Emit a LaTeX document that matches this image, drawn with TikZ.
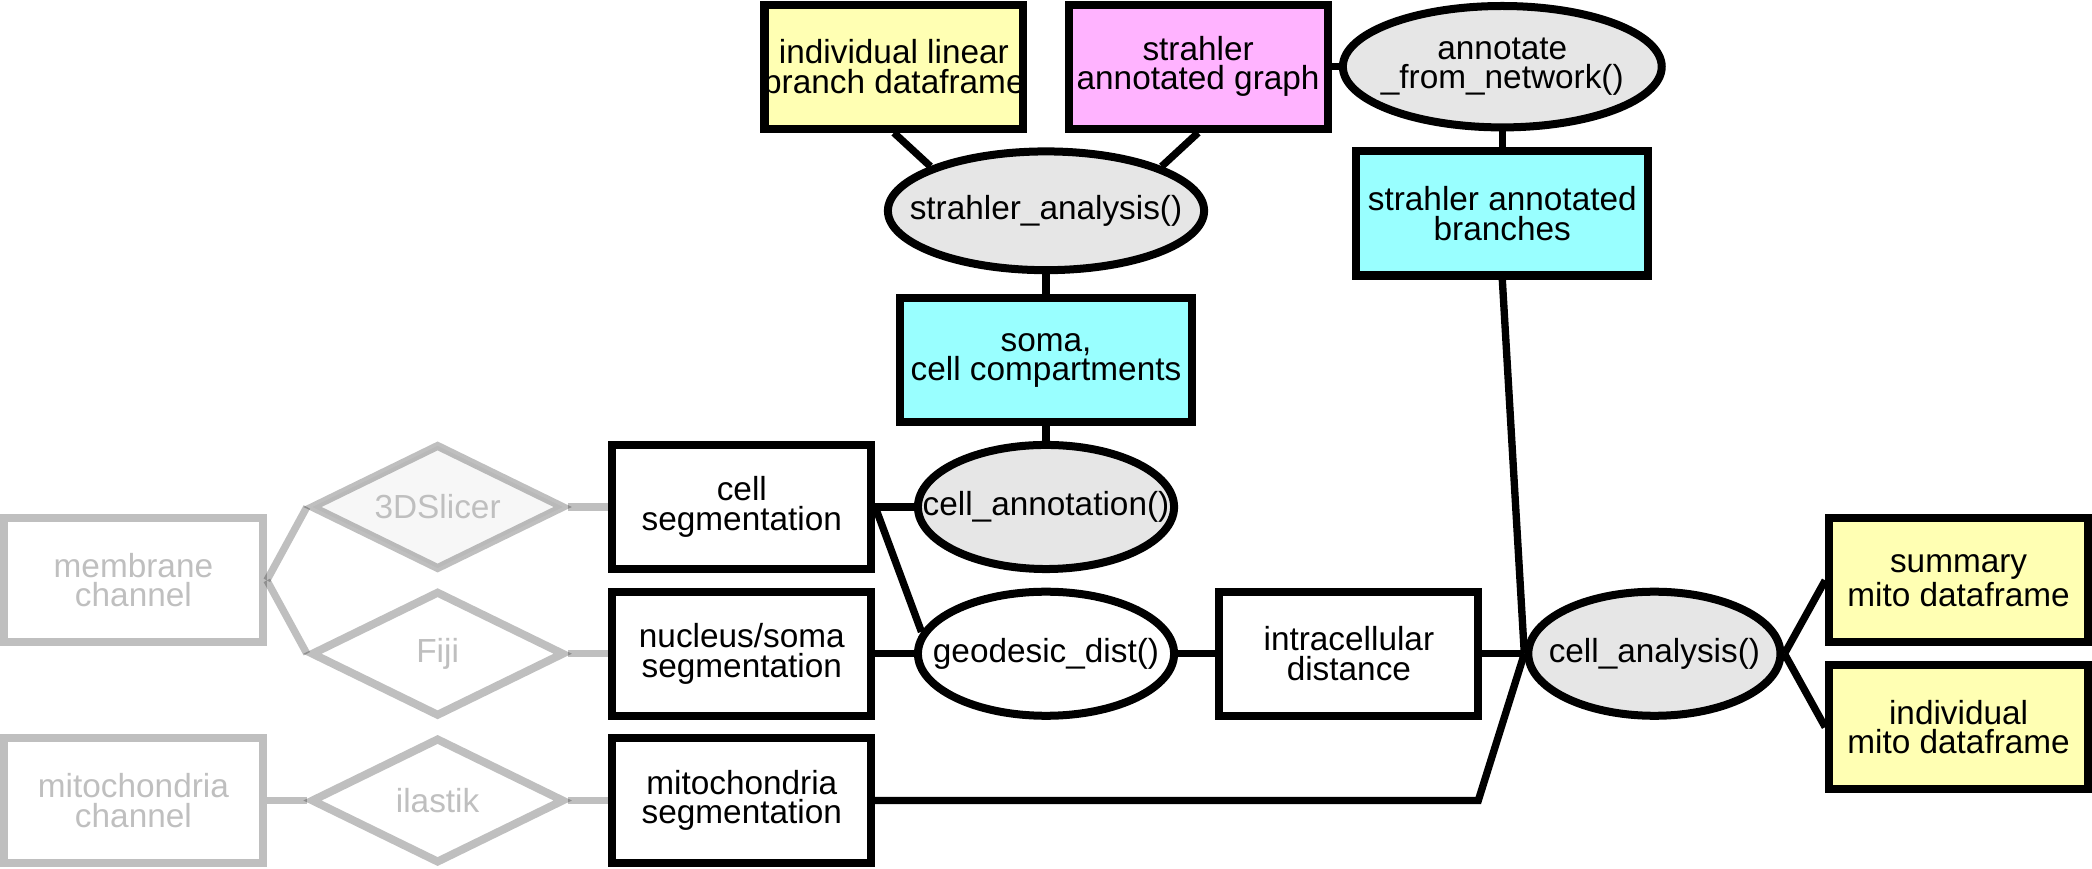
\documentclass[tikz,border=0pt]{standalone}
\usepackage{fontspec}
\setmainfont{Liberation Sans}
\usetikzlibrary{shapes.geometric}
\definecolor{yel}{HTML}{FFFFB3}
\definecolor{pnk}{HTML}{FFB3FF}
\definecolor{cyn}{HTML}{99FFFF}
\definecolor{gel}{HTML}{E6E6E6}
\begin{document}
\begin{tikzpicture}[x=0.5pt,y=-0.5pt, line width=3pt,
  every label/.style={align=center, inner sep=0pt, font=\fontsize{12.5}{11}\selectfont},
  box/.style={rectangle, draw, minimum width=97pt, minimum height=46.5pt, inner sep=0pt, label={center:#1}},
  wbox/.style={box={#1}, minimum width=109.5pt},
  ell/.style={ellipse, draw, fill=gel, minimum width=96pt, minimum height=46.5pt, inner sep=0pt, label={center:#1}},
  gbox/.style={rectangle, draw=black, draw opacity=0.25, minimum width=97pt, minimum height=46.5pt, inner sep=0pt, label={[text=black!25]center:#1}},
  gdia/.style={diamond, draw=black, draw opacity=0.25, minimum width=95pt, minimum height=47pt, inner sep=0pt, label={[text=black!25]center:#1}},
  gline/.style={draw=black, draw opacity=0.25, line width=2.75pt},
  conn/.style={draw=black, line width=2.75pt}
]
\useasboundingbox (0,0) rectangle (1568,651);
% grey inputs
\node[gbox={membrane\\channel}] (mem) at (100,435) {};
\node[gbox={mitochondria\\channel}] (mit) at (100,600) {};
\node[gdia={3DSlicer}, fill=black!3] (slicer) at (328,380) {};
\node[gdia={Fiji}, fill=white] (fiji) at (328,490) {};
\node[gdia={ilastik}, fill=white] (ilastik) at (328,600) {};
% segmentations
\node[box={cell\\segmentation}] (cs) at (556,380) {};
\node[box={nucleus/soma\\segmentation}] (nuc) at (556,490) {};
\node[box={mitochondria\\segmentation}] (ms) at (556,600) {};
% functions
\node[ell={cell\_annotation()}] (can) at (784,380) {};
\node[ell={geodesic\_dist()}, fill=white] (gd) at (784,490) {};
\node[box={intracellular\\distance}] (idist) at (1011,490) {};
\node[ell={cell\_analysis()}, minimum width=94.5pt] (ca) at (1240,490) {};
\node[box={summary\\mito dataframe}, fill=yel] (sum) at (1468,435) {};
\node[box={individual\\mito dataframe}, fill=yel] (ind) at (1468,545) {};
\node[wbox={soma,\\cell compartments}, fill=cyn] (soma) at (784,270) {};
\node[ell={strahler\_analysis()}, minimum width=118.5pt, minimum height=44.5pt] (sa) at (784,158) {};
\node[box={individual linear\\branch dataframe}, fill=yel] (ilb) at (670,50) {};
\node[box={strahler\\annotated graph}, fill=pnk] (sag) at (898,50) {};
\node[ell={annotate\\\_from\_network()}, minimum width=119.5pt, minimum height=45.5pt] (afn) at (1126,50) {};
\node[wbox={strahler annotated\\branches}, fill=cyn] (sab) at (1126,160) {};
\coordinate (bend) at (1108,600);
% grey connectors
\draw[gline] (mem.east) -- (slicer.west);
\draw[gline] (mem.east) -- (fiji.west);
\draw[gline] (mit.east) -- (ilastik.west);
\draw[gline] (slicer.east) -- (cs.west);
\draw[gline] (fiji.east) -- (nuc.west);
\draw[gline] (ilastik.east) -- (ms.west);
% black connectors
\draw[conn] (cs.east) -- (can.west);
\draw[conn] (cs.east) -- (gd.170);
\draw[conn] (nuc.east) -- (gd.west);
\draw[conn] (gd.east) -- (idist.west);
\draw[conn] (idist.east) -- (ca.west);
\draw[conn] (ms.east) -- (bend) -- (ca.west);
\draw[conn] (sab.south) -- (ca.west);
\draw[conn] (ca.east) -- (sum.west);
\draw[conn] (ca.east) -- (ind.west);
\draw[conn] (can.north) -- (soma.south);
\draw[conn] (soma.north) -- (sa.south);
\draw[conn] (ilb.south) -- (sa.159);
\draw[conn] (sag.south) -- (sa.21);
\draw[conn] (sag.east) -- (afn.west);
\draw[conn] (afn.south) -- (sab.north);
\end{tikzpicture}
\end{document}
